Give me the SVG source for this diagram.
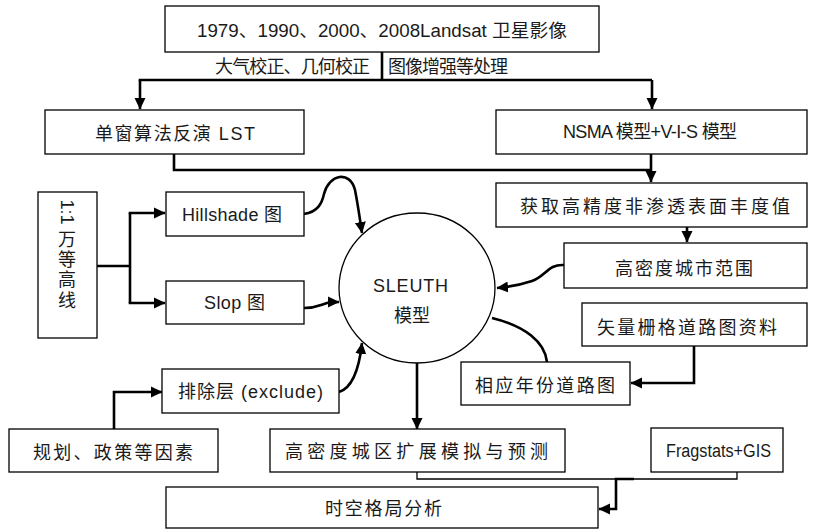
<svg xmlns="http://www.w3.org/2000/svg" width="815" height="532" viewBox="0 0 815 532">
<style>
.box{fill:#fff;stroke:#000;stroke-width:1.3}
.t{font-family:"Liberation Sans","Noto Sans CJK SC",sans-serif;font-size:18px;fill:#1a1a1a}
.c{fill:none;stroke:#000;stroke-width:2.6;stroke-linejoin:miter}
.thin{fill:none;stroke:#000;stroke-width:1.3}
</style>
<defs>
<marker id="ah" markerUnits="userSpaceOnUse" markerWidth="12" markerHeight="12" viewBox="0 0 12 12" refX="11" refY="6" orient="auto">
<path d="M0,0.5 L11.5,6 L0,11.5 Z" fill="#000"/>
</marker>
</defs>
<rect width="815" height="532" fill="#fff"/>

<g id="connectors">
<path class="c" d="M382,52 V80"/>
<path class="c" d="M138.7,80 H652"/>
<path class="c" d="M140,80 V109" marker-end="url(#ah)"/>
<path class="c" d="M652,80 V109" marker-end="url(#ah)"/>
<path class="c" d="M174,154 V170 H651"/>
<path class="c" d="M651,154 V182" marker-end="url(#ah)"/>
<path class="c" d="M687,227 V242" marker-end="url(#ah)"/>
<path class="c" d="M564,265 C548,264 546,276 532,281 C520,285 508,287 497,288" marker-end="url(#ah)"/>
<path class="c" d="M97,266 H130"/>
<path class="c" d="M130,213 V303"/>
<path class="c" d="M128.7,213 H165" marker-end="url(#ah)"/>
<path class="c" d="M128.7,303 H165" marker-end="url(#ah)"/>
<path class="c" d="M304,214 C318,212 322,203 324,194 C329,174 350,170 355,190 C358,205 360,220 362,233" marker-end="url(#ah)"/>
<path class="c" d="M304,308 C316,308 320,305 327,303 C331,302 334,302 339,302" marker-end="url(#ah)"/>
<path class="c" d="M339,392 C352,388 359,370 362,343" marker-end="url(#ah)"/>
<path class="c" d="M114,429 V392 H162" marker-end="url(#ah)"/>
<path class="c" d="M417,362 V429" marker-end="url(#ah)"/>
<path class="c" d="M547,362 C545,342 525,326 492,318"/>
<path class="c" d="M694,346 V383 H631" marker-end="url(#ah)"/>
<path class="thin" d="M417,472 V479 H737 V472"/>
<path class="c" d="M634,479 H616 V509 H599" marker-end="url(#ah)"/>
</g>

<g id="n-landsat">
<rect class="box" x="165" y="6" width="434" height="46"/>
<text class="t" x="197" y="36.5" textLength="370" lengthAdjust="spacingAndGlyphs">1979、1990、2000、2008Landsat 卫星影像</text>
</g>
<g id="lbl-correct">
<text class="t" x="215" y="73" font-size="16" textLength="155" lengthAdjust="spacing">大气校正、几何校正</text>
<text class="t" x="388" y="73" font-size="16" textLength="120" lengthAdjust="spacing">图像增强等处理</text>
</g>
<g id="n-lst">
<rect class="box" x="45" y="110" width="259" height="44"/>
<text class="t" x="95" y="139.5" textLength="160" lengthAdjust="spacing">单窗算法反演 LST</text>
</g>
<g id="n-nsma">
<rect class="box" x="496" y="110" width="311" height="44"/>
<text class="t" x="563" y="138" font-size="16" textLength="174" lengthAdjust="spacing">NSMA 模型+V-I-S 模型</text>
</g>
<g id="n-isa">
<rect class="box" x="496" y="183" width="311" height="44"/>
<text class="t" x="520" y="213" font-size="19" textLength="270" lengthAdjust="spacing">获取高精度非渗透表面丰度值</text>
</g>
<g id="n-urban">
<rect class="box" x="564" y="243" width="243" height="45"/>
<text class="t" x="615" y="275" font-size="19" textLength="138" lengthAdjust="spacing">高密度城市范围</text>
</g>
<g id="n-contour">
<rect class="box" x="38" y="192" width="59" height="146"/>
<text class="t" transform="translate(61,212) rotate(90)" x="0" y="0" text-anchor="middle">1:1</text>
<text class="t" x="67" y="246" text-anchor="middle">万</text>
<text class="t" x="67" y="266" text-anchor="middle">等</text>
<text class="t" x="67" y="286" text-anchor="middle">高</text>
<text class="t" x="67" y="307" text-anchor="middle">线</text>
</g>
<g id="n-hillshade">
<rect class="box" x="166" y="192" width="138" height="44"/>
<text class="t" x="182" y="221" textLength="100" lengthAdjust="spacing">Hillshade 图</text>
</g>
<g id="n-slop">
<rect class="box" x="166" y="281" width="138" height="43"/>
<text class="t" x="204" y="309" textLength="61" lengthAdjust="spacing">Slop 图</text>
</g>
<g id="n-sleuth">
<ellipse cx="417" cy="288" rx="78" ry="75" fill="#fff" stroke="#000" stroke-width="1.3"/>
<text class="t" x="373" y="291.5" font-size="19" textLength="75" lengthAdjust="spacing">SLEUTH</text>
<text class="t" x="412" y="322" text-anchor="middle">模型</text>
</g>
<g id="n-road-src">
<rect class="box" x="582" y="303" width="225" height="43"/>
<text class="t" x="597" y="334" font-size="19" textLength="180" lengthAdjust="spacing">矢量栅格道路图资料</text>
</g>
<g id="n-road">
<rect class="box" x="461" y="362" width="169" height="43"/>
<text class="t" x="475" y="392" font-size="19" textLength="140" lengthAdjust="spacing">相应年份道路图</text>
</g>
<g id="n-exclude">
<rect class="box" x="162" y="369" width="177" height="44"/>
<text class="t" x="178" y="398" textLength="145" lengthAdjust="spacing">排除层 (exclude)</text>
</g>
<g id="n-policy">
<rect class="box" x="9" y="429" width="209" height="43"/>
<text class="t" x="33" y="459" font-size="19" textLength="160" lengthAdjust="spacing">规划、政策等因素</text>
</g>
<g id="n-sim">
<rect class="box" x="270" y="429" width="295" height="43"/>
<text class="t" x="285" y="458" font-size="19" textLength="263" lengthAdjust="spacing">高密度城区扩展模拟与预测</text>
</g>
<g id="n-frag">
<rect class="box" x="651" y="428" width="132" height="44"/>
<text class="t" x="666" y="457" font-size="17" textLength="105" lengthAdjust="spacingAndGlyphs">Fragstats+GIS</text>
</g>
<g id="n-analysis">
<rect class="box" x="166" y="487" width="432" height="41"/>
<text class="t" x="325" y="515" font-size="19" textLength="117" lengthAdjust="spacing">时空格局分析</text>
</g>
</svg>
